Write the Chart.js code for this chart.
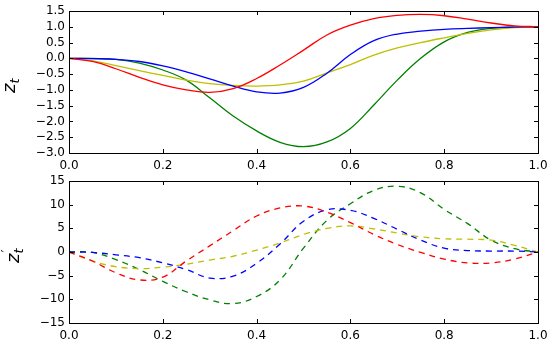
<!DOCTYPE html>
<html>
<head>
<meta charset="utf-8">
<script src="https://cdn.jsdelivr.net/npm/chart.js@4/dist/chart.umd.min.js"></script>
<style>
	body { margin: 0; background: #fff; }
	.box { position: absolute; left: 0; width: 550px; height: 170px; }
</style>
</head>
<body>
<div class="box" style="top:0"><canvas id="top" width="550" height="170"></canvas></div>
<div class="box" style="top:170px"><canvas id="bottom" width="550" height="170"></canvas></div>
<script>
// x samples
const xs = [0, 0.05, 0.1, 0.15, 0.2, 0.25, 0.3, 0.35, 0.4, 0.45, 0.5, 0.55, 0.6, 0.65, 0.7, 0.75, 0.8, 0.85, 0.9, 0.95, 1.0];

// z_t
const zRed = [0, -0.1, -0.33, -0.6, -0.84, -1.0, -1.08, -0.96, -0.64, -0.21, 0.26, 0.74, 1.05, 1.26, 1.36, 1.39, 1.35, 1.24, 1.12, 1.03, 1.0];
const zBlue = [0, -0.01, -0.03, -0.1, -0.24, -0.43, -0.65, -0.88, -1.06, -1.1, -0.92, -0.47, 0.12, 0.56, 0.77, 0.86, 0.92, 0.95, 0.97, 0.99, 1.0];
const zYellow = [0, -0.08, -0.23, -0.39, -0.54, -0.69, -0.8, -0.86, -0.88, -0.84, -0.72, -0.46, -0.2, 0.1, 0.33, 0.5, 0.65, 0.79, 0.9, 0.97, 1.0];
const zGreen = [0, -0.005, -0.03, -0.15, -0.37, -0.69, -1.25, -1.83, -2.3, -2.66, -2.8, -2.65, -2.22, -1.48, -0.69, 0.0, 0.52, 0.82, 0.95, 0.99, 1.0];

// z'_t
const dRed = [0, -1.9, -4.4, -5.9, -5.3, -1.9, 1.3, 4.5, 7.6, 9.3, 9.7, 8.4, 6.2, 3.7, 1.6, -0.1, -1.5, -2.3, -2.3, -1.5, 0];
const dBlue = [0, -0.1, -0.6, -1.2, -2.3, -3.7, -5.5, -5.1, -2.4, 1.7, 6.5, 8.9, 8.8, 7.1, 4.8, 2.5, 0.8, 0.3, 0.2, 0.2, 0];
const dYellow = [0, -1.9, -3.1, -3.5, -3.2, -2.6, -1.7, -0.9, 0.4, 1.9, 3.7, 5.0, 5.5, 4.9, 4.0, 3.2, 2.8, 2.7, 2.5, 1.4, 0];
const dGreen = [0, -0.1, -1.6, -3.7, -6.2, -8.4, -10.1, -10.9, -9.4, -5.9, 0.8, 6.7, 10.2, 13.0, 13.9, 12.5, 9.0, 6.0, 2.5, 0.7, 0];

// tick labels
const xTicks = [0, 0.2, 0.4, 0.6, 0.8, 1.0];
const zTicks = [-3.0, -2.5, -2.0, -1.5, -1.0, -0.5, 0.0, 0.5, 1.0, 1.5];
const dTicks = [-15, -10, -5, 0, 5, 10, 15];

const colors = { r: "#ff0000", b: "#0000ff", y: "#bfbf00", g: "#008000" };
const tickFont = { family: "DejaVu Sans", size: 12 };

function pts(ys) {
	return ys.map((y, i) => ({ x: xs[i], y: y }));
}

function ds(ys, color, dash) {
	return {
		data: pts(ys),
		borderColor: color,
		borderWidth: 1.3,
		borderDash: dash ? [6, 5] : [],
		pointRadius: 0,
		tension: 0.4,
		fill: false
	};
}

function fmt(v, dec) {
	const s = Math.abs(v).toFixed(dec);
	return (v < 0 ? "\u2212" : "") + s;
}

// matplotlib-like frame with inward ticks
const frame = {
	id: "frame",
	afterDraw(chart) {
		const ctx = chart.ctx;
		const a = chart.chartArea;
		ctx.save();
		ctx.strokeStyle = "#000";
		ctx.lineWidth = 1;
		ctx.strokeRect(a.left + 0.5, a.top + 0.5, a.right - a.left, a.bottom - a.top);
		chart.scales.x.ticks.forEach((t) => {
			const px = Math.round(chart.scales.x.getPixelForValue(t.value)) + 0.5;
			ctx.beginPath();
			ctx.moveTo(px, a.bottom); ctx.lineTo(px, a.bottom - 4);
			ctx.moveTo(px, a.top); ctx.lineTo(px, a.top + 4);
			ctx.stroke();
		});
		chart.scales.y.ticks.forEach((t) => {
			const py = Math.round(chart.scales.y.getPixelForValue(t.value)) + 0.5;
			ctx.beginPath();
			ctx.moveTo(a.left, py); ctx.lineTo(a.left + 4, py);
			ctx.moveTo(a.right, py); ctx.lineTo(a.right - 4, py);
			ctx.stroke();
		});
		// y label z_t / z'_t
		const lab = chart.options.plugins.frame;
		ctx.fillStyle = "#000";
		ctx.translate(lab.x, lab.y);
		ctx.rotate(-Math.PI / 2);
		ctx.textBaseline = "alphabetic";
		ctx.font = "italic 18px 'DejaVu Sans'";
		ctx.fillText("z", 0, 0);
		const w = ctx.measureText("z").width;
		if (lab.prime) {
			ctx.font = "14px 'DejaVu Sans'";
			ctx.fillText("\u2032", w + 1, -8);
		}
		ctx.font = "italic 13px 'DejaVu Sans'";
		ctx.fillText("t", w, 4);
		ctx.restore();
	}
};

function makeChart(id, sets, yTicks, dec, lab) {
	return new Chart(document.getElementById(id), {
		type: "line",
		data: { datasets: sets },
		plugins: [frame],
		options: {
			responsive: false,
			animation: false,
			layout: { padding: { left: 0, right: 12, top: 11, bottom: 0 } },
			plugins: {
				legend: { display: false },
				tooltip: { enabled: false },
				frame: lab
			},
			scales: {
				x: {
					type: "linear",
					min: 0,
					max: 1,
					afterBuildTicks: (s) => { s.ticks = xTicks.map((v) => ({ value: v })); },
					afterFit: (s) => { s.height = 17; s.paddingLeft = 0; s.paddingRight = 0; },
					grid: { display: false, drawTicks: false },
					border: { display: false },
					ticks: { color: "#000", font: tickFont, padding: 6, maxRotation: 0, autoSkip: false, callback: (v) => v.toFixed(1) }
				},
				y: {
					min: yTicks[0],
					max: yTicks[yTicks.length - 1],
					afterBuildTicks: (s) => { s.ticks = yTicks.map((v) => ({ value: v })); },
					afterFit: (s) => { s.width = 69; s.paddingTop = 0; s.paddingBottom = 0; },
					grid: { display: false, drawTicks: false },
					border: { display: false },
					ticks: { color: "#000", font: tickFont, padding: 4, autoSkip: false, callback: (v) => fmt(v, dec) }
				}
			}
		}
	});
}

makeChart("top", [
	ds(zRed, colors.r, false),
	ds(zBlue, colors.b, false),
	ds(zYellow, colors.y, false),
	ds(zGreen, colors.g, false)
], zTicks, 1, { x: 15, y: 93, prime: false });

makeChart("bottom", [
	ds(dRed, colors.r, true),
	ds(dBlue, colors.b, true),
	ds(dYellow, colors.y, true),
	ds(dGreen, colors.g, true)
], dTicks, 0, { x: 19, y: 93, prime: true });
</script>
</body>
</html>
